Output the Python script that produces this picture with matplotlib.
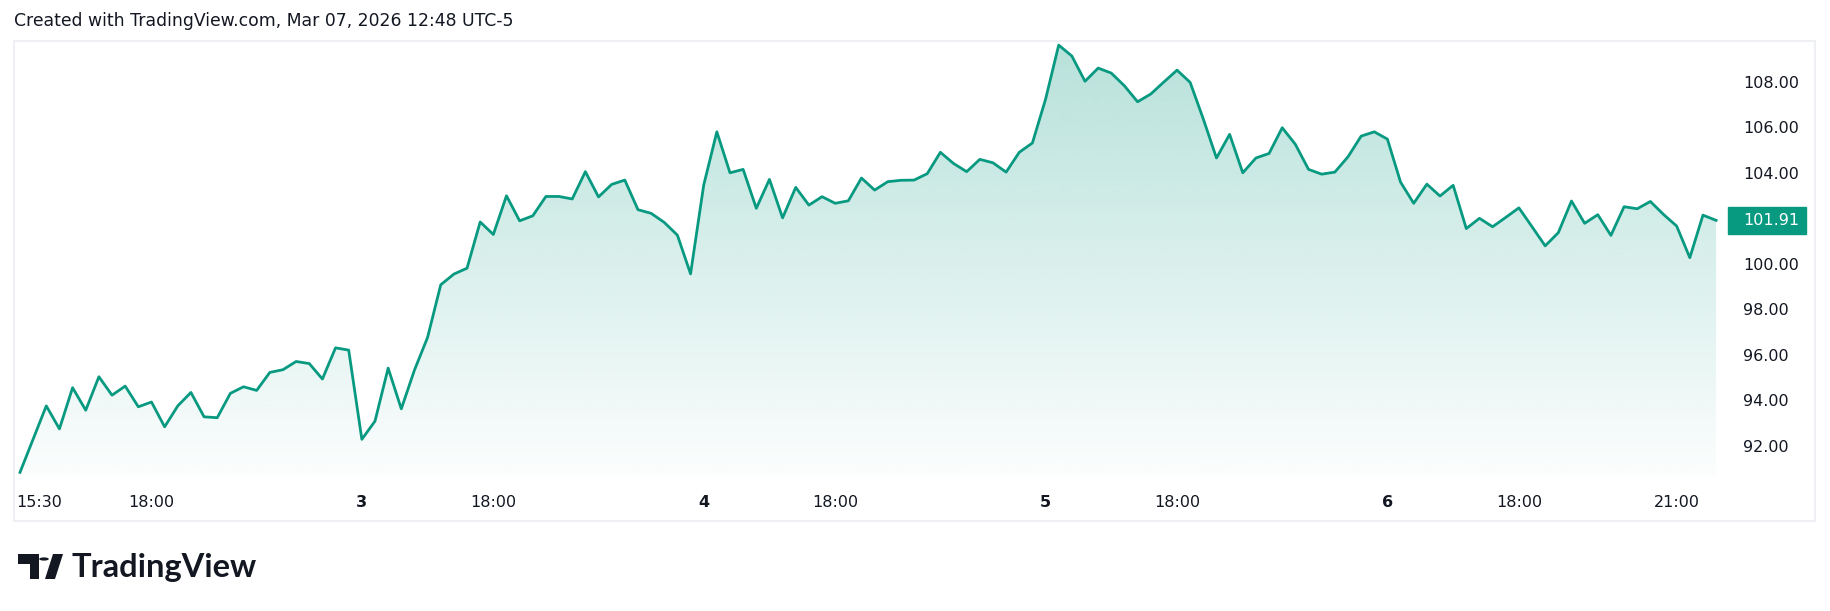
import numpy as np
import matplotlib
matplotlib.use("Agg")
import matplotlib.pyplot as plt
from matplotlib.patches import Rectangle, Polygon, Circle, PathPatch
from matplotlib.transforms import ScaledTranslation, blended_transform_factory

# ---------------- data ----------------
prices = [
    90.84, 92.30, 93.76, 92.75, 94.56, 93.57, 95.04, 94.23, 94.63, 93.72,
    93.93, 92.84, 93.76, 94.35, 93.28, 93.24, 94.31, 94.60, 94.44, 95.23,
    95.35, 95.71, 95.62, 94.94, 96.31, 96.21, 92.29, 93.09, 95.42, 93.63,
    95.33, 96.77, 99.08, 99.55, 99.81, 101.84, 101.29, 102.99, 101.89, 102.11,
    102.96, 102.96, 102.85, 104.05, 102.94, 103.49, 103.68, 102.38, 102.22, 101.82,
    101.26, 99.56, 103.46, 105.80, 104.00, 104.15, 102.44, 103.71, 102.02, 103.36,
    102.58, 102.95, 102.66, 102.77, 103.77, 103.24, 103.61, 103.67, 103.68, 103.96,
    104.90, 104.41, 104.05, 104.59, 104.44, 104.03, 104.90, 105.31, 107.23, 109.61,
    109.13, 108.02, 108.60, 108.38, 107.82, 107.12, 107.46, 107.99, 108.51, 107.97,
    106.36, 104.65, 105.69, 104.00, 104.65, 104.85, 105.98, 105.25, 104.15, 103.94,
    104.03, 104.70, 105.61, 105.80, 105.48, 103.59, 102.66, 103.50, 102.98, 103.45,
    101.55, 102.00, 101.63, 102.04, 102.46, 101.63, 100.79, 101.37, 102.76, 101.78,
    102.16, 101.25, 102.51, 102.42, 102.74, 102.17, 101.66, 100.27, 102.14, 101.91,
]
tick_idx = [0, 10, 26, 36, 52, 62, 78, 88, 104, 114, 126]
tick_labels = ["15:30", "18:00", "3", "18:00", "4", "18:00", "5", "18:00", "6", "18:00", "21:00"]
ytick_vals = [92, 94, 96, 98, 100, 104, 106, 108]
last_price = 101.91
title = "Created with TradingView.com, Mar 07, 2026 12:48 UTC-5"

# ---------------- styling ----------------
TEAL = "#089981"
TXT = "#131722"
W, H = 1830, 611
plt.rcParams["font.family"] = ["DejaVu Sans"]

fig = plt.figure(figsize=(W / 100, H / 100), dpi=100)
fig.patch.set_facecolor("white")


def fx(px):
    return px / W


def fy(py):
    return 1 - py / H


# outer pane frame
fig.add_artist(Rectangle((fx(14), fy(521)), fx(1815) - fx(14), fy(41) - fy(521),
                         transform=fig.transFigure, fill=False, ec="#eef0f3", lw=1.5))

ax = fig.add_axes([fx(14), fy(476), fx(1724) - fx(14), fy(41) - fy(476)])
ax.set_facecolor("none")
for s in ax.spines.values():
    s.set_visible(False)

x = np.arange(len(prices))
ymin, ymax = 90.68, 109.79
ax.set_xlim(-0.456, 129.6)
ax.set_ylim(ymin, ymax)

# gradient fill under line
top = max(prices)
n = 256
alpha = np.linspace(0.015, 0.29, n)
rgba = np.zeros((n, 1, 4))
rgba[:, 0, 0] = 8 / 255
rgba[:, 0, 1] = 153 / 255
rgba[:, 0, 2] = 129 / 255
rgba[:, 0, 3] = alpha
im = ax.imshow(rgba, extent=[x[0], x[-1], ymin, top], origin="lower",
               aspect="auto", interpolation="bilinear", zorder=1)
poly = ax.fill_between(x, prices, ymin, color="none", lw=0)
patch = PathPatch(poly.get_paths()[0], transform=ax.transData, fc="none", ec="none")
ax.add_patch(patch)
im.set_clip_path(patch)
ax.set_xlim(-0.456, 129.6)
ax.set_ylim(ymin, ymax)

ax.plot(x, prices, color=TEAL, lw=2.0, solid_joinstyle="round", zorder=3)

# y axis on right
ax.yaxis.tick_right()
ax.set_yticks(ytick_vals)
ax.set_yticklabels([f"{v:.2f}" for v in ytick_vals])
ax.tick_params(axis="y", length=0, pad=13.7, labelsize=11.5, colors=TXT)

# x axis
ax.set_xticks(tick_idx)
ax.set_xticklabels(tick_labels)
ax.tick_params(axis="x", length=0, pad=13.5, labelsize=11.5, colors=TXT)
for i, lab in enumerate(ax.get_xticklabels()):
    if lab.get_text() in ("3", "4", "5", "6"):
        lab.set_fontweight("bold")
    if i == 0:
        lab.set_horizontalalignment("left")
        lab.set_transform(lab.get_transform() + ScaledTranslation(-4 / 100, 0, fig.dpi_scale_trans))

# last price label
bt = blended_transform_factory(fig.transFigure, ax.transData)
hbox = 27 / 22.76
ax.add_artist(Rectangle((fx(1728), last_price - hbox / 2), fx(1806) - fx(1728), hbox,
                        transform=bt, color=TEAL, clip_on=False, zorder=5))
ax.text(fx(1743), last_price, f"{last_price:.2f}", transform=bt, color="white",
        fontsize=11.5, va="center", ha="left", zorder=6, clip_on=False)

# title
fig.text(fx(14), fy(21), title, fontsize=12.4, color=TXT, va="center", ha="left")

# TradingView logo
def P(px, py):
    return (fx(px), fy(py))


fig.add_artist(Polygon([P(18, 554), P(39, 554), P(39, 579), P(30, 579), P(30, 564), P(18, 564)],
                       closed=True, transform=fig.transFigure, fc="#131722", ec="none"))
fig.add_artist(Circle(P(44, 559), 4.8 / W, transform=fig.transFigure, fc="#131722", ec="none"))
fig.add_artist(Polygon([P(53, 554), P(63, 554), P(55, 579), P(45, 579)],
                       closed=True, transform=fig.transFigure, fc="#131722", ec="none"))
fig.text(fx(72), fy(567), "TradingView", fontsize=23.5, fontweight="bold",
         family=["Lato", "DejaVu Sans"], color="#131722", va="center", ha="left")

fig.savefig("out.png", dpi=100, facecolor="white")
